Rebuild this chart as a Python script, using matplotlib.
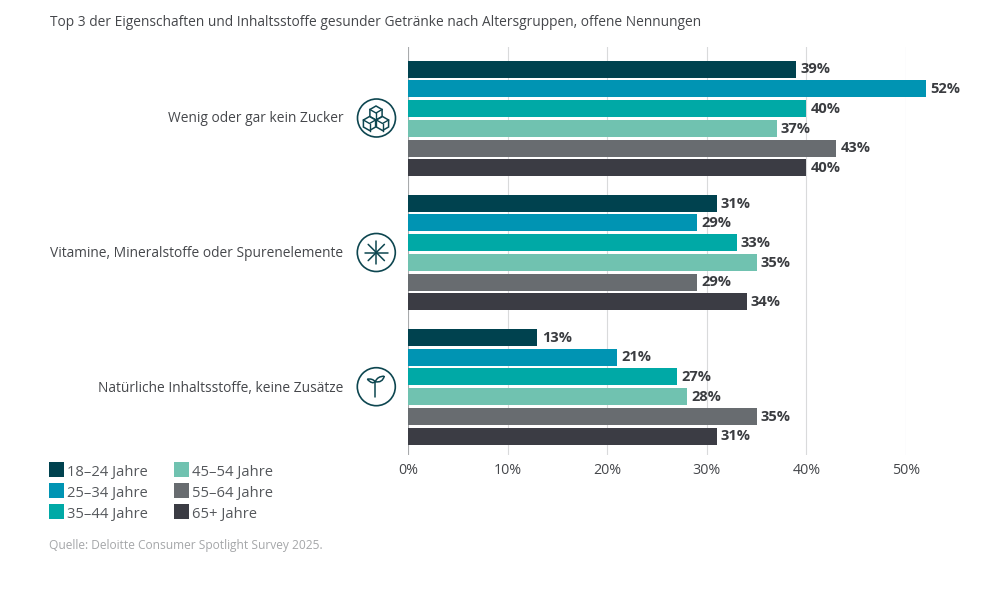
import matplotlib
matplotlib.use("Agg")
import matplotlib.pyplot as plt
from matplotlib.patches import Circle, Rectangle, Polygon, PathPatch
from matplotlib.path import Path
from matplotlib.lines import Line2D
import numpy as np

plt.rcParams['font.family'] = ['Open Sans', 'DejaVu Sans']

categories = ["Wenig oder gar kein Zucker",
              "Vitamine, Mineralstoffe oder Spurenelemente",
              "Natürliche Inhaltsstoffe, keine Zusätze"]
age_groups = ["18–24 Jahre", "25–34 Jahre", "35–44 Jahre",
              "45–54 Jahre", "55–64 Jahre", "65+ Jahre"]
colors = ["#00424F", "#0094B3", "#00A9A6", "#70C2B0", "#686C70", "#3B3C44"]
age_18_24 = [39, 31, 13]
age_25_34 = [52, 29, 21]
age_35_44 = [40, 33, 27]
age_45_54 = [37, 35, 28]
age_55_64 = [43, 29, 35]
age_65p = [40, 34, 31]
series = [age_18_24, age_25_34, age_35_44, age_45_54, age_55_64, age_65p]
xticks = [0, 10, 20, 30, 40, 50]

W, H = 1008, 594
fig = plt.figure(figsize=(W/100, H/100), dpi=100, facecolor="white")
TXT = "#45474b"
ROW, GROUP = 19.75, 134.2
TOP, BOT, Y0 = 47, 455, 69

ax = fig.add_axes([408/W, 1-BOT/H, (906-408)/W, (BOT-TOP)/H])
ax.set_xlim(0, 50)
ax.set_ylim(BOT-Y0, TOP-Y0)   # y in px offset from the first bar
for s in ax.spines.values():
    s.set_visible(False)
ax.set_axisbelow(True)
ax.xaxis.grid(True, color="#d9dadb", lw=0.8)
ax.yaxis.set_visible(False)
ax.set_xticks(xticks)
ax.set_xticklabels([f"{t}%" for t in xticks], fontsize=10.3, color=TXT)
ax.tick_params(axis="x", length=0, pad=6)
ax.axvline(0, color="#a8aaac", lw=1.5, zorder=1)

for gi, cat in enumerate(categories):
    gy = gi*GROUP
    for si, vals in enumerate(series):
        y = gy + si*ROW
        ax.barh(y, vals[gi], height=17, color=colors[si], clip_on=False, zorder=3)
        ax.text(vals[gi]+0.42, y+0.3, f"{vals[gi]}%", va="center", ha="left",
                fontsize=10.5, fontweight="bold", color="#3a3c40", clip_on=False)

# overlay in pixel coordinates for labels and icons
ov = fig.add_axes([0, 0, 1, 1], facecolor="none")
ov.set_xlim(0, W); ov.set_ylim(H, 0); ov.axis("off")

label_y = [119, 253.5, 388]
for c, ly in zip(categories, label_y):
    ov.text(343.5, ly, c, ha="right", va="center", fontsize=9.88, color=TXT)

ICON = "#0d4650"
def ring(cx, cy):
    ov.add_patch(Circle((cx, cy), 19, fill=False, ec=ICON, lw=1.2))
def seg(pts):
    xs, ys = zip(*pts)
    ov.add_line(Line2D(xs, ys, color=ICON, lw=1.1, solid_capstyle="round", solid_joinstyle="round"))
def cube(cx, cy, r=7):
    dx = r*0.87; dy = r*0.5
    ov.add_patch(Polygon([(cx, cy-r), (cx+dx, cy-dy), (cx+dx, cy+dy), (cx, cy+r), (cx-dx, cy+dy), (cx-dx, cy-dy)],
                         closed=True, fc="white", ec=ICON, lw=1.1, zorder=3))
    for p in [[(cx-dx, cy-dy), (cx, cy), (cx+dx, cy-dy)], [(cx, cy), (cx, cy+r)]]:
        xs, ys = zip(*p)
        ov.add_line(Line2D(xs, ys, color=ICON, lw=1.0, zorder=4))

ring(376.5, 118)
cube(376, 113); cube(369.5, 123.5); cube(382.5, 123.5)

cx, cy = 376.3, 252.5
ring(cx, cy)
for a in np.deg2rad([0, 45, 90, 135]):
    seg([(cx-11.5*np.cos(a), cy-11.5*np.sin(a)), (cx+11.5*np.cos(a), cy+11.5*np.sin(a))])

cx, cy = 376.3, 386.7
ring(cx, cy)
seg([(cx-1, cy-5), (cx-1, cy+10)])
C3, MT = Path.CURVE3, Path.MOVETO
left_leaf = Path([(cx-9, cy-7.5), (cx-4, cy-8.5), (cx-1, cy-5), (cx-4, cy-2), (cx-9, cy-7.5)],
                 [MT, C3, C3, C3, C3])
right_leaf = Path([(cx+8, cy-10.5), (cx+1, cy-10.5), (cx-1, cy-5), (cx+6, cy-3.5), (cx+8, cy-10.5)],
                  [MT, C3, C3, C3, C3])
for leaf in (left_leaf, right_leaf):
    ov.add_patch(PathPatch(leaf, fc="none", ec=ICON, lw=1.1))

# legend
leg_x = [49, 174]
leg_y = [470, 491, 511.5]
for i, (lab, col) in enumerate(zip(age_groups, colors)):
    x = leg_x[i//3]; y = leg_y[i % 3]
    ov.add_patch(Rectangle((x, y-8), 15, 15, fc=col, ec="none"))
    ov.text(x+18, y+2.7, lab, va="center", ha="left", fontsize=10.6, color="#55585c")

ov.text(50, 23, "Top 3 der Eigenschaften und Inhaltsstoffe gesunder Getränke nach Altersgruppen, offene Nennungen",
        va="center", ha="left", fontsize=9.88, color=TXT)
ov.text(49, 546, "Quelle: Deloitte Consumer Spotlight Survey 2025.", va="center", ha="left",
        fontsize=8.65, color="#a5a7a9")

fig.savefig("out.png", dpi=100)
